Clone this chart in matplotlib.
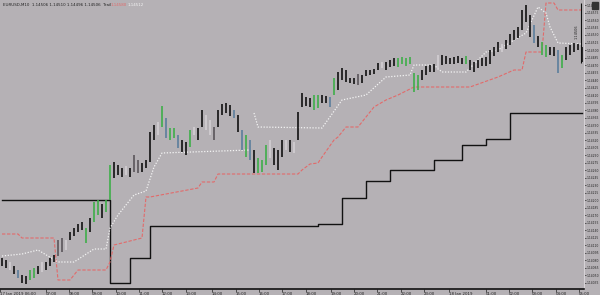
import numpy as np
import matplotlib.pyplot as plt
from matplotlib.ticker import MultipleLocator, FormatStrFormatter
from matplotlib.patches import Rectangle

# bar highs / lows in points (1e-5)
bar_high = [114084, 114080, 114076, 114068, 114060, 114050, 114048, 114060, 114064, 114068,
            114076, 114076, 114084, 114090, 114120, 114124, 114120, 114136, 114144, 114152,
            114156, 114144, 114164, 114196, 114200, 114192, 114200, 114270, 114276, 114270,
            114264, 114268, 114264, 114290, 114280, 114274, 114280, 114336, 114350, 114356,
            114388, 114364, 114344, 114344, 114330, 114320, 114316, 114340, 114346, 114344,
            114380, 114370, 114360, 114346, 114380, 114392, 114394, 114390, 114380, 114370,
            114340, 114330, 114320, 114300, 114284, 114280, 114310, 114320, 114304, 114300,
            114320, 114320, 114320, 114316, 114376, 114414, 114406, 114404, 114410, 114410,
            114410, 114408, 114406, 114444, 114456, 114464, 114460, 114444, 114444, 114452,
            114450, 114460, 114460, 114462, 114474, 114476, 114476, 114480, 114484, 114484,
            114486, 114484, 114486, 114454, 114450, 114460, 114468, 114470, 114472, 114490,
            114490, 114488, 114484, 114486, 114488, 114484, 114488, 114480, 114476, 114480,
            114484, 114486, 114500, 114506, 114516, 114512, 114520, 114532, 114540, 114546,
            114580, 114590, 114570, 114550, 114528, 114516, 114510, 114506, 114506, 114500,
            114490, 114506, 114510, 114514, 114512, 114506]
bar_low = [114068, 114064, 114060, 114052, 114044, 114034, 114032, 114040, 114044, 114052,
           114056, 114060, 114068, 114076, 114088, 114096, 114100, 114120, 114128, 114136,
           114140, 114114, 114136, 114156, 114170, 114164, 114176, 114200, 114244, 114250,
           114246, 114250, 114246, 114256, 114254, 114256, 114264, 114276, 114320, 114330,
           114346, 114324, 114320, 114324, 114304, 114296, 114290, 114306, 114330, 114320,
           114346, 114340, 114330, 114320, 114346, 114370, 114374, 114368, 114364, 114336,
           114300, 114286, 114280, 114254, 114254, 114256, 114270, 114284, 114270, 114260,
           114286, 114300, 114296, 114294, 114320, 114386, 114388, 114386, 114380, 114384,
           114394, 114394, 114386, 114410, 114420, 114440, 114436, 114434, 114432, 114430,
           114434, 114448, 114450, 114452, 114460, 114464, 114460, 114466, 114468, 114466,
           114472, 114468, 114472, 114416, 114420, 114440, 114450, 114456, 114456, 114460,
           114470, 114472, 114472, 114472, 114474, 114472, 114472, 114460, 114456, 114464,
           114468, 114468, 114472, 114488, 114496, 114496, 114502, 114510, 114520, 114524,
           114540, 114556, 114526, 114514, 114506, 114490, 114486, 114490, 114488, 114454,
           114464, 114480, 114490, 114496, 114500, 114476]
bar_kind = ("kkwkbkkggk" "wkkkddwkkk" "kgkggkggkk" "kwkddkkkkw" "gbggbkkgwk"
            "kwwdkkkkbk" "bgbkgggwkk" "kwkwkkkkgg" "kkbgkkkkkd" "kkkkkwkkkg"
            "gggggkkkkw" "kkkkkkgkkk" "kkkkkwkkkk" "kkkbkggkkb" "gkkkkk")

# trailing stop (red dashed)
red_bar = [0, 4, 5, 13, 14, 17, 19, 26, 27, 28, 35, 36, 37, 49, 50, 53, 54, 74, 75, 77,
           79, 80, 83, 84, 86, 89, 93, 96, 99, 103, 117, 124, 128, 130, 131, 135, 136, 138, 139, 145]
red_val = [114132, 114132, 114124, 114124, 114040, 114040, 114060, 114060, 114076, 114110,
           114124, 114206, 114206, 114224, 114236, 114236, 114252, 114252, 114260, 114272,
           114274, 114286, 114320, 114326, 114346, 114346, 114386, 114400, 114410, 114426,
           114426, 114446, 114460, 114460, 114496, 114496, 114594, 114594, 114580, 114580]

# white dotted line (nan = gap)
wht_bar = [0, 5, 9, 14, 18, 23, 26, 27, 29, 33, 36, 38, 40, 62, np.nan,
           63, 64, 80, 85, 91, 96, 102, 103, 108, 110, 116, 121, 124, 128, 131, 134, 136, 137, 139, 145]
wht_val = [114088, 114092, 114100, 114076, 114076, 114102, 114102, 114144, 114170, 114210,
           114218, 114266, 114294, 114300, np.nan,
           114374, 114346, 114344, 114400, 114410, 114446, 114450, 114470, 114470, 114456,
           114456, 114496, 114500, 114520, 114534, 114586, 114574, 114546, 114514, 114512]

# black step line
step_bar = [0, 27, 32, 37, 79, 85, 91, 97, 108, 115, 121, 127, 145]
step_val = [114200, 114034, 114084, 114148, 114152, 114204, 114238, 114260, 114280, 114310,
            114322, 114374, 114374]

time_pos = [-0.5, 11, 16.75, 22.5, 28.5, 34.25, 40, 46, 52.5, 58.5, 64.25, 70, 76, 82.25,
            88, 93.75, 99.75, 105.5, 111.75, 121, 126.75, 132.5, 138.5, 144.25]
time_lbl = ["17 Jan 2019 06:00", "07:00", "08:00", "09:00", "10:00", "11:00", "12:00",
            "13:00", "14:00", "15:00", "16:00", "17:00", "18:00", "19:00", "20:00", "21:00",
            "22:00", "23:00", "18 Jan 2019", "01:00", "02:00", "03:00", "04:00", "05:00"]

kind_col = {"k": "#111111", "g": "#3fae49", "b": "#5b7e9c", "w": "#d3cfd3", "d": "#5a555a"}
bg = "#b5b1b5"

hi = np.array(bar_high) / 1e5
lo = np.array(bar_low) / 1e5
xs = np.arange(len(hi))

fig = plt.figure(figsize=(6, 2.95), dpi=100)
fig.patch.set_facecolor(bg)
ax = fig.add_axes([0, 6 / 295, 584 / 600, 289 / 295])
ax.set_facecolor(bg)

ax.step(np.array(step_bar), np.array(step_val) / 1e5, where="post", color="#111111", lw=1.0, zorder=2)
ax.plot(red_bar, np.array(red_val) / 1e5, color="#e26a6a", lw=0.8, dashes=(3, 1.5), zorder=3)
ax.plot(wht_bar, np.array(wht_val) / 1e5, color="#f4f4f4", lw=0.9, dashes=(1, 1.3), zorder=3)
ax.vlines(xs, lo, hi, colors=[kind_col[c] for c in bar_kind], lw=1.2, zorder=4)

# last-price marker line
mark_bar, mark_top, mark_bot = 144.75, 1.14594, 1.14474
ax.vlines([mark_bar], mark_bot, mark_top, colors="#111111", lw=0.8, zorder=5)
ax.text(143.6, 1.14536, "1.14506", rotation=90, fontsize=2.5, color="#222222",
        ha="center", va="center")

ax.set_xlim(-0.5, 145.5)
ax.set_ylim(1.14022, 1.14600)

ax.yaxis.tick_right()
ax.yaxis.set_major_locator(MultipleLocator(0.00015, offset=0.00005))
ax.yaxis.set_major_formatter(FormatStrFormatter("%.5f"))
ax.tick_params(axis="y", direction="out", length=1.5, width=0.5, colors="#222222",
               labelsize=2.2, pad=0.4)
ax.set_xticks(time_pos)
ax.set_xticklabels(time_lbl)
ax.tick_params(axis="x", direction="out", length=2, width=0.5, colors="#222222",
               labelsize=2.8, pad=0.3)
for lbl in ax.get_xticklabels():
    lbl.set_ha("left")

for s in ["left", "top"]:
    ax.spines[s].set_visible(False)
ax.spines["bottom"].set_color("#111111")
ax.spines["bottom"].set_linewidth(1.2)
ax.spines["right"].set_color("#d6d2d6")
ax.spines["right"].set_linewidth(0.8)

# header text
fig.text(3 / 600, 1 - 5 / 295, "EURUSD,M10  1.14506 1.14510 1.14496 1.14506  Trail",
         fontsize=2.9, color="#222222", va="center")
fig.text(111 / 600, 1 - 5 / 295, "1.14580", fontsize=2.9, color="#e26a6a", va="center")
fig.text(128 / 600, 1 - 5 / 295, "1.14512", fontsize=2.9, color="#f4f4f4", va="center")
fig.add_artist(Rectangle((592 / 600, 1 - 9 / 295), 6 / 600, 7 / 295,
                         color="#333333", transform=fig.transFigure))

fig.savefig("out.png", dpi=100, facecolor=bg)
